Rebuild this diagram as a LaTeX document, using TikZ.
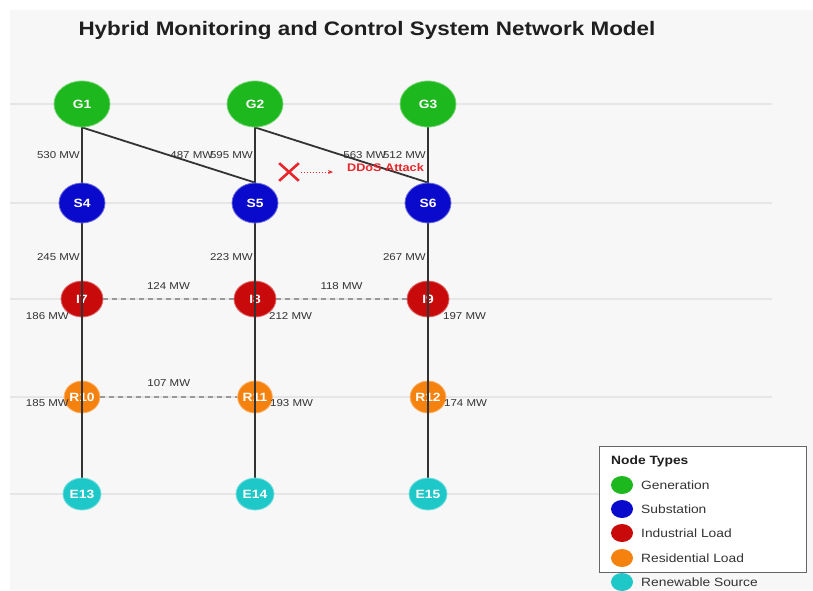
\documentclass[tikz,border=0pt]{standalone}
\usepackage{fontspec}
\setmainfont{Liberation Sans}[FakeStretch=1.15]
\usetikzlibrary{shapes.geometric,shapes.misc,arrows.meta}
\pgfdeclarelayer{bottom}
\pgfdeclarelayer{under}
\pgfdeclarelayer{mid}
\pgfsetlayers{bottom,under,mid,main}
\definecolor{cgen}{HTML}{1DB81D}
\definecolor{csub}{HTML}{0A0ACC}
\definecolor{cind}{HTML}{C80A0A}
\definecolor{cres}{HTML}{F5820F}
\definecolor{cren}{HTML}{1FC8C8}
\definecolor{panel}{HTML}{F7F7F7}
\definecolor{gridc}{HTML}{E6E6E6}
\definecolor{edgec}{HTML}{333333}
\definecolor{labc}{HTML}{333333}
\definecolor{attack}{HTML}{E8262B}
\tikzset{
  nd/.style={ellipse, inner sep=0pt, text=white, font=\bfseries\fontsize{12}{12}\selectfont, line width=0.8pt},
  gen/.style={nd, fill=cgen, draw=cgen!60!white, minimum width=56pt, minimum height=46pt},
  sub/.style={nd, fill=csub, draw=csub!60!white, minimum width=46pt, minimum height=40pt},
  ind/.style={nd, fill=cind, draw=cind!60!white, minimum width=42pt, minimum height=36pt},
  res/.style={nd, fill=cres, draw=cres!60!white, minimum width=34pt, minimum height=32pt},
  ren/.style={nd, fill=cren, draw=cren!60!white, minimum width=38pt, minimum height=32pt},
  feeder/.style={draw=edgec, line width=2.3pt},
  diag/.style={draw=edgec, line width=1.8pt},
  tieline/.style={draw=gray!80, line width=1.3pt, dash pattern=on 5pt off 4pt},
  mw/.style={text=labc, font=\fontsize{10}{10}\selectfont, inner sep=1pt},
  gridline/.style={draw=gridc, line width=2pt},
  legdot/.style={ellipse, inner sep=0pt, minimum width=22pt, minimum height=18pt},
  legtext/.style={anchor=west, text=labc, font=\fontsize{12}{12}\selectfont, inner sep=0pt}
}
\begin{document}
\begin{tikzpicture}[x=1pt,y=-1pt]
\useasboundingbox (0,0) rectangle (813,590);
\begin{pgfonlayer}{bottom}
  \fill[white] (0,0) rectangle (813,590);
  \fill[panel] (10,10) rectangle (813,590);
  \foreach \yy in {104,203,299,397,494} {\draw[gridline] (10,\yy) -- (772,\yy);}
\end{pgfonlayer}

\node[anchor=west, text=black!88, font=\bfseries\fontsize{19.5}{19.5}\selectfont] (title) at (75,30) {Hybrid Monitoring and Control System Network Model};

% top nodes
\node[gen] (G1) at (82,104) {G1};
\node[gen] (G2) at (255,104) {G2};
\node[gen] (G3) at (428,104) {G3};
\node[sub] (S4) at (82,203) {S4};
\node[sub] (S5) at (255,203) {S5};
\node[sub] (S6) at (428,203) {S6};
\node[ren] (E13) at (82,494) {E13};
\node[ren] (E14) at (255,494) {E14};
\node[ren] (E15) at (428,494) {E15};

\begin{pgfonlayer}{under}
\node[ind] (I7) at (82,299) {I7};
\node[ind] (I8) at (255,299) {I8};
\node[ind] (I9) at (428,299) {I9};
\node[res] (R10) at (82,397) {R10};
\node[res] (R11) at (255,397) {R11};
\node[res] (R12) at (428,397) {R12};
\end{pgfonlayer}

% attack annotation
\node[anchor=west, text=attack, font=\bfseries\fontsize{11}{11}\selectfont, inner sep=0pt] (atk) at (347,168) {DDoS Attack};
\node[cross out, draw=attack, line width=2.6pt, minimum width=17pt, minimum height=15pt, inner sep=0pt] (X) at (289,172) {};

\begin{pgfonlayer}{mid}
\draw[feeder] (G1) -- (S4) node[midway, anchor=east, mw] {530 MW};
\draw[feeder] (G2) -- (S5) node[midway, anchor=east, mw] {595 MW};
\draw[feeder] (G3) -- (S6) node[midway, anchor=east, mw] {512 MW};
\draw[diag] (G1.south) -- (S5.north) node[midway, anchor=west, mw] {487 MW};
\draw[diag] (G2.south) -- (S6.north) node[midway, anchor=west, mw] {563 MW};

\draw[feeder] (S4) -- (I7.center) node[pos=0.45, anchor=east, mw] {245 MW} -- (R10.center) -- (E13);
\draw[feeder] (S5) -- (I8.center) node[pos=0.45, anchor=east, mw] {223 MW} -- (R11.center) -- (E14);
\draw[feeder] (S6) -- (I9.center) node[pos=0.45, anchor=east, mw] {267 MW} -- (R12.center) -- (E15);

\draw[tieline] (I7) -- (I8) node[midway, yshift=13pt, mw] {124 MW};
\draw[tieline] (I8) -- (I9) node[midway, yshift=13pt, mw] {118 MW};
\draw[tieline] (R10) -- (R11) node[midway, yshift=14pt, mw] {107 MW};

\draw[attack, line width=1pt, dotted, -{Stealth[length=5pt,width=4pt]}, shorten <=2pt, shorten >=14pt] (X) -- (atk.west |- X);
\end{pgfonlayer}

% load labels
\node[mw, anchor=east] (l186) at ([shift={(-12,17)}]I7.center) {186 MW};
\node[mw, anchor=west] (l212) at ([shift={(13,17)}]I8.center) {212 MW};
\node[mw, anchor=west] (l197) at ([shift={(14,17)}]I9.center) {197 MW};
\node[mw, anchor=east] (l185) at ([shift={(-12,6)}]R10.center) {185 MW};
\node[mw, anchor=west] (l193) at ([shift={(14,6)}]R11.center) {193 MW};
\node[mw, anchor=west] (l174) at ([shift={(15,6)}]R12.center) {174 MW};

% legend
\node[draw=gray!80!black, fill=white, line width=0.9pt, anchor=north west, minimum width=207pt, minimum height=126pt, inner sep=0pt] (leg) at (599,446) {};
\node[anchor=west, text=black!88, font=\bfseries\fontsize{12}{12}\selectfont, inner sep=0pt] (legtitle) at (611,461) {Node Types};
\node[legdot, fill=cgen] (d1) at (622,485) {};
\node[legtext] (t1) at (641,485) {Generation};
\node[legdot, fill=csub] (d2) at (622,509) {};
\node[legtext] (t2) at (641,509) {Substation};
\node[legdot, fill=cind] (d3) at (622,533) {};
\node[legtext] (t3) at (641,533) {Industrial Load};
\node[legdot, fill=cres] (d4) at (622,558) {};
\node[legtext] (t4) at (641,558) {Residential Load};
\node[legdot, fill=cren] (d5) at (622,582) {};
\node[legtext] (t5) at (641,582) {Renewable Source};
\end{tikzpicture}
\end{document}
